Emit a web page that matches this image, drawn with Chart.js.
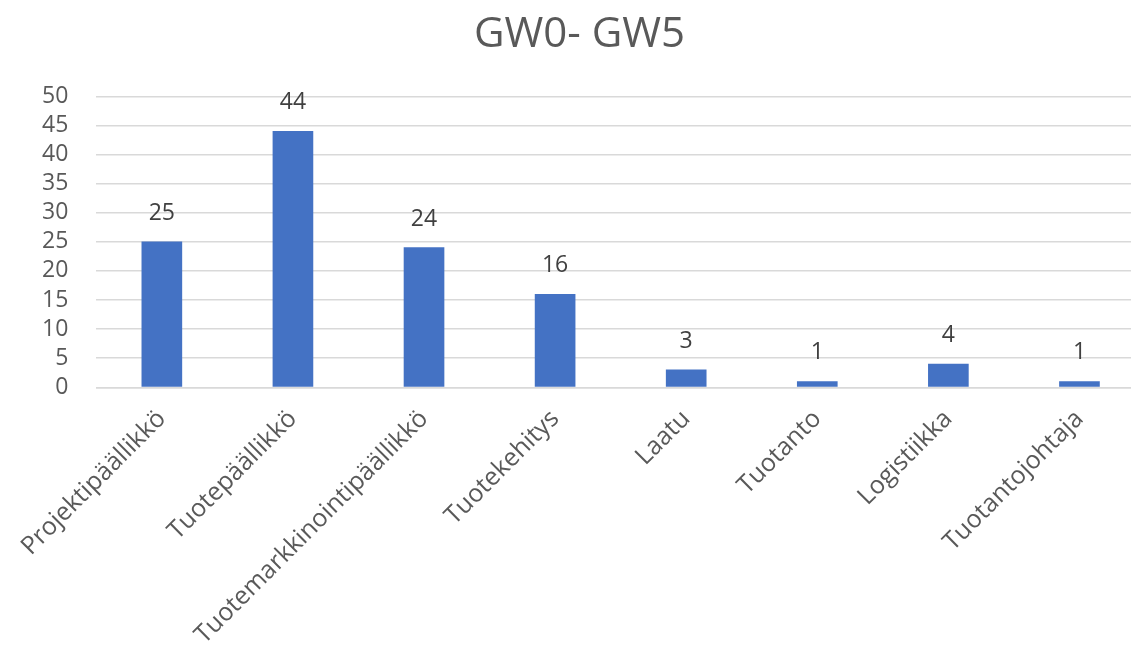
<!DOCTYPE html>
<html>
<head>
<meta charset="utf-8">
<script src="https://cdn.jsdelivr.net/npm/chart.js@4"></script>
<style>
  html, body { margin: 0; padding: 0; background: #fff; overflow: hidden; }
  #wrap { width: 1145px; height: 659px; }
</style>
</head>
<body>
<div id="wrap"><canvas id="chart"></canvas></div>
<script>
// Data
const categories = [
    'Projektipäällikkö',
    'Tuotepäällikkö',
    'Tuotemarkkinointipäällikkö',
    'Tuotekehitys',
    'Laatu',
    'Tuotanto',
    'Logistiikka',
    'Tuotantojohtaja'
];
const counts = [25, 44, 24, 16, 3, 1, 4, 1];
const yTicks = [0, 5, 10, 15, 20, 25, 30, 35, 40, 45, 50];

const textColor = '#595959';
const fontFamily = "'Open Sans', 'Noto Sans', sans-serif";

// Draw the value above each bar
const valueLabels = {
    id: 'valueLabels',
    afterDatasetsDraw(chart) {
        const ctx = chart.ctx;
        const meta = chart.getDatasetMeta(0);
        ctx.save();
        ctx.font = '23px ' + fontFamily;
        ctx.fillStyle = '#404040';
        ctx.textAlign = 'center';
        ctx.textBaseline = 'alphabetic';
        meta.data.forEach((bar, i) => {
            ctx.fillText(String(counts[i]), bar.x, bar.y - 22);
        });
        ctx.restore();
    }
};

new Chart(document.getElementById('chart'), {
    type: 'bar',
    data: {
        labels: categories,
        datasets: [{
            data: counts,
            backgroundColor: '#4472C4',
            barThickness: 40
        }]
    },
    options: {
        responsive: true,
        maintainAspectRatio: false,
        animation: false,
        layout: { padding: { left: 14, right: 0, top: 10, bottom: 0 } },
        plugins: {
            legend: { display: false },
            tooltip: { enabled: false },
            title: {
                display: true,
                text: 'GW0- GW5',
                color: textColor,
                font: { family: fontFamily, size: 42, weight: 'normal' },
                padding: { top: 0, bottom: 36 }
            }
        },
        scales: {
            y: {
                min: 0,
                max: 50,
                afterBuildTicks: (axis) => { axis.ticks = yTicks.map(v => ({ value: v })); },
                grid: { color: '#d9d9d9', lineWidth: 1.5, drawTicks: false },
                border: { display: false },
                ticks: {
                    color: textColor,
                    padding: 28,
                    autoSkip: false,
                    font: { family: fontFamily, size: 23 }
                }
            },
            x: {
                grid: { display: false },
                border: { color: '#d9d9d9', width: 1.5 },
                ticks: {
                    color: textColor,
                    maxRotation: 45,
                    minRotation: 45,
                    padding: 9,
                    autoSkip: false,
                    font: { family: fontFamily, size: 25 }
                }
            }
        }
    },
    plugins: [valueLabels]
});
</script>
</body>
</html>
